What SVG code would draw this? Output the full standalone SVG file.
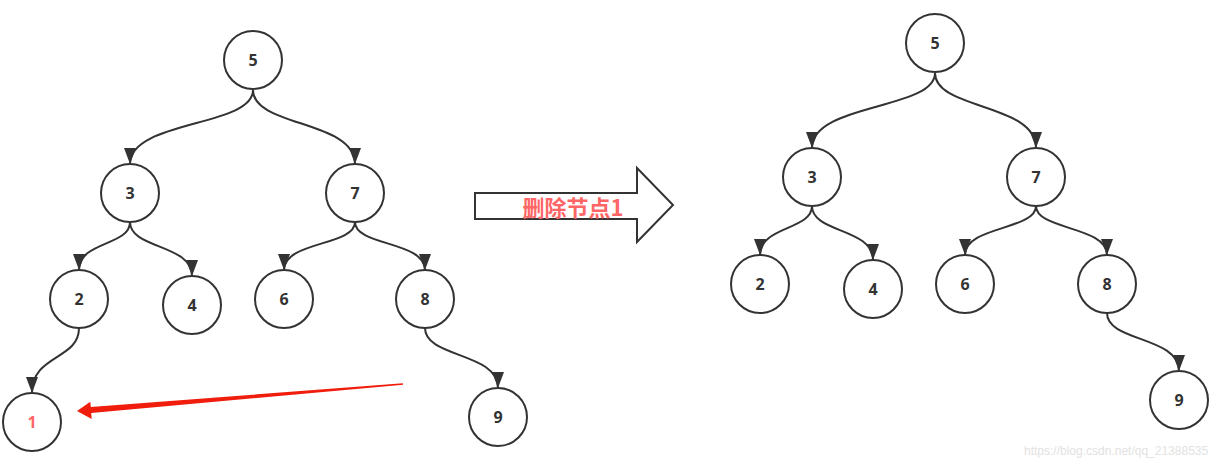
<svg xmlns="http://www.w3.org/2000/svg" width="1217" height="462" viewBox="0 0 1217 462">
<style>
.n circle{fill:#fff;stroke:#333;stroke-width:2}
.n text{font-family:"Open Sans","Liberation Sans",sans-serif;font-weight:bold;font-size:16px;fill:#333;text-anchor:middle;dominant-baseline:central}
.n text.red{fill:#ff6666}
#edges path{fill:none;stroke:#333;stroke-width:2;marker-end:url(#ah)}
</style>
<defs>
<marker id="ah" markerUnits="userSpaceOnUse" markerWidth="18" markerHeight="14" refX="16" refY="6" orient="auto">
<path d="M0,0 L16,6 L0,12 z" fill="#333"/>
</marker>
</defs>
<rect width="1217" height="462" fill="#fff"/>
<g id="edges">
<path d="M253,90 C253,127 130,120 130,164"/>
<path d="M253,90 C253,127 355,120 355,164"/>
<path d="M130,222 C130,246 79,241 79,270"/>
<path d="M130,222 C130,249 192,244 192,276"/>
<path d="M355,222 C355,246 284,241 284,270"/>
<path d="M355,222 C355,246 425,241 425,270"/>
<path d="M79,328 C79,360 32,354 32,393"/>
<path d="M425,328 C425,358 498,352 498,388"/>
<path d="M935,73 C935,110 812,103 812,148"/>
<path d="M935,73 C935,110 1036,103 1036,148"/>
<path d="M812,206 C812,230 760,226 760,255"/>
<path d="M812,206 C812,233 873,228 873,260"/>
<path d="M1036,206 C1036,230 965,226 965,255"/>
<path d="M1036,206 C1036,230 1107,226 1107,255"/>
<path d="M1107,313 C1107,342 1179,336 1179,371"/>
</g>
<g id="L5" class="n"><circle cx="253" cy="60" r="29"/><text x="253" y="60">5</text></g>
<g id="L3" class="n"><circle cx="130" cy="193" r="29"/><text x="130" y="193">3</text></g>
<g id="L7" class="n"><circle cx="355" cy="193" r="29"/><text x="355" y="193">7</text></g>
<g id="L2" class="n"><circle cx="79" cy="299" r="29"/><text x="79" y="299">2</text></g>
<g id="L4" class="n"><circle cx="192" cy="305" r="29"/><text x="192" y="305">4</text></g>
<g id="L6" class="n"><circle cx="284" cy="299" r="29"/><text x="284" y="299">6</text></g>
<g id="L8" class="n"><circle cx="425" cy="299" r="29"/><text x="425" y="299">8</text></g>
<g id="L1" class="n"><circle cx="32" cy="422" r="29"/><text class="red" x="32" y="422">1</text></g>
<g id="L9" class="n"><circle cx="498" cy="417" r="29"/><text x="498" y="417">9</text></g>
<g id="R5" class="n"><circle cx="935" cy="43" r="29"/><text x="935" y="43">5</text></g>
<g id="R3" class="n"><circle cx="812" cy="177" r="29"/><text x="812" y="177">3</text></g>
<g id="R7" class="n"><circle cx="1036" cy="177" r="29"/><text x="1036" y="177">7</text></g>
<g id="R2" class="n"><circle cx="760" cy="284" r="29"/><text x="760" y="284">2</text></g>
<g id="R4" class="n"><circle cx="873" cy="289" r="29"/><text x="873" y="289">4</text></g>
<g id="R6" class="n"><circle cx="965" cy="284" r="29"/><text x="965" y="284">6</text></g>
<g id="R8" class="n"><circle cx="1107" cy="284" r="29"/><text x="1107" y="284">8</text></g>
<g id="R9" class="n"><circle cx="1179" cy="400" r="29"/><text x="1179" y="400">9</text></g>
<g id="bigArrow">
<polygon points="475,193 637,193 637,168 673,205 637,242 637,219 475,219" fill="#fff" stroke="#333" stroke-width="2"/>
<text x="573" y="216" text-anchor="middle" font-family="'Noto Sans CJK SC',sans-serif" font-weight="bold" font-size="22" fill="#ff6666">删除节点1</text>
</g>
<g id="redArrow">
<polygon points="77,411 90.3,401.8 90.8,407 402.9,383.3 403.1,384.7 91.2,413 91.7,419" fill="#f01c0c"/>
</g>
<text x="1024" y="455" font-family="'Liberation Sans',Arial,sans-serif" font-size="12" fill="#e2e2e2">https://blog.csdn.net/qq_21388535</text>
</svg>
